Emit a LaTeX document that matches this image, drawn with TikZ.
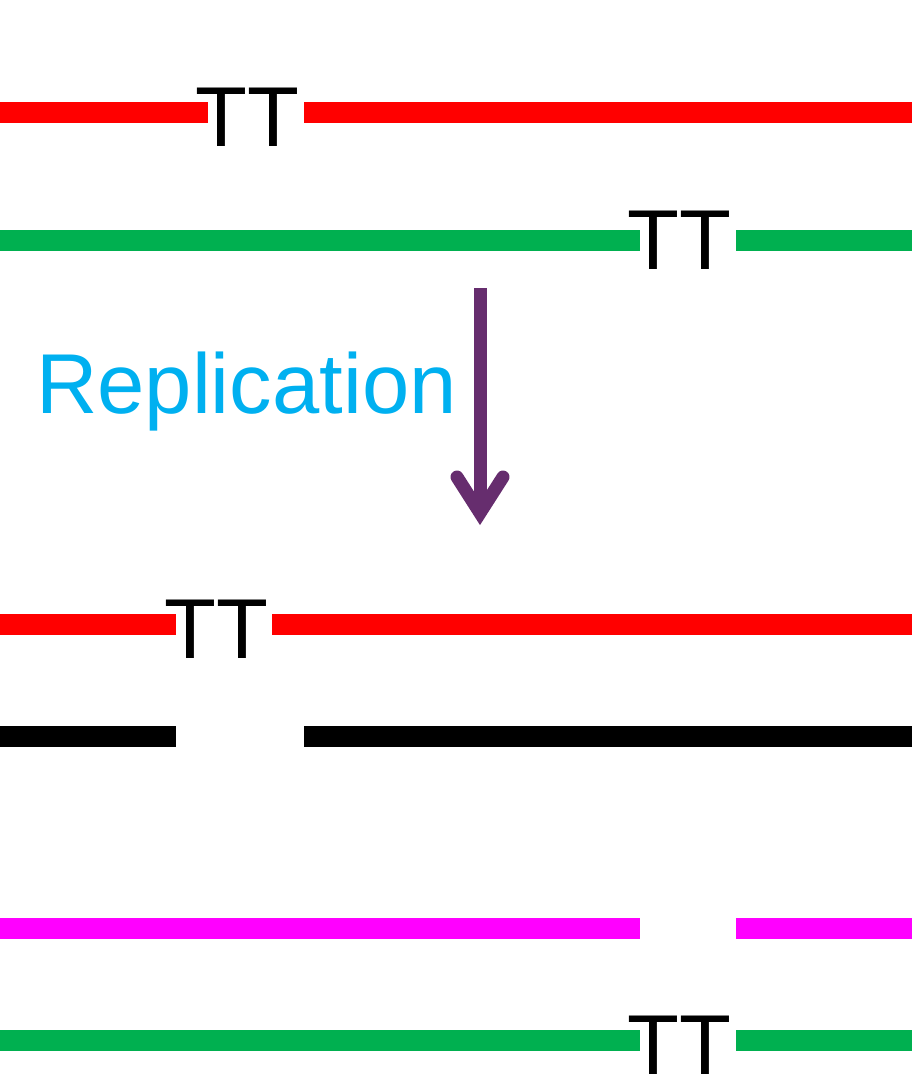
\documentclass[tikz,border=0pt]{standalone}
\usepackage{fontspec}
\setmainfont{Liberation Sans}
\definecolor{cred}{RGB}{255,0,0}
\definecolor{cgreen}{RGB}{0,176,80}
\definecolor{cmag}{RGB}{255,0,255}
\definecolor{ccyan}{RGB}{0,176,240}
\definecolor{cpurple}{RGB}{102,45,110}
\tikzset{
  strand/.style={line width=21pt, line cap=butt},
  tt/.style={anchor=base, inner sep=0pt, font=\fontsize{85}{100}\selectfont, text=black},
}
\begin{document}
\begin{tikzpicture}[x=1pt,y=-1pt]
\useasboundingbox (0,0) rectangle (912,1080);
% row 1 red
\coordinate (r1a) at (0,112); \coordinate (r1b) at (208,112);
\coordinate (r1c) at (304,112); \coordinate (r1d) at (912,112);
\draw[strand, cred] (r1a) -- (r1b);
\draw[strand, cred] (r1c) -- (r1d);
\node[tt] (tt1) at (247.5,146) {TT};
% row 2 green
\coordinate (g1a) at (0,240); \coordinate (g1b) at (640,240);
\coordinate (g1c) at (736,240); \coordinate (g1d) at (912,240);
\draw[strand, cgreen] (g1a) -- (g1b);
\draw[strand, cgreen] (g1c) -- (g1d);
\node[tt] (tt2) at (679.5,269) {TT};
% arrow
\coordinate (atop) at (480,288);
\coordinate (atip) at (480,513);
\coordinate (awl) at (457,477);
\coordinate (awr) at (503,477);
\draw[cpurple, line width=13pt] (atop) -- (480,505);
\draw[cpurple, line width=13pt, line cap=round, line join=miter] (awl) -- (atip) -- (awr);
\node[anchor=base west, inner sep=0pt, font=\fontsize{85}{100}\selectfont, text=ccyan] (rep) at (36,413) {Replication};
% row 3 red
\coordinate (r2a) at (0,624); \coordinate (r2b) at (176,624);
\coordinate (r2c) at (272,624); \coordinate (r2d) at (912,624);
\draw[strand, cred] (r2a) -- (r2b);
\draw[strand, cred] (r2c) -- (r2d);
\node[tt] (tt3) at (216,658) {TT};
% row 4 black
\coordinate (b1a) at (0,736); \coordinate (b1b) at (176,736);
\coordinate (b1c) at (304,736); \coordinate (b1d) at (912,736);
\draw[strand, black] (b1a) -- (b1b);
\draw[strand, black] (b1c) -- (b1d);
% row 5 magenta
\coordinate (m1a) at (0,928); \coordinate (m1b) at (640,928);
\coordinate (m1c) at (736,928); \coordinate (m1d) at (912,928);
\draw[strand, cmag] (m1a) -- (m1b);
\draw[strand, cmag] (m1c) -- (m1d);
% row 6 green
\coordinate (g2a) at (0,1040); \coordinate (g2b) at (640,1040);
\coordinate (g2c) at (736,1040); \coordinate (g2d) at (912,1040);
\draw[strand, cgreen] (g2a) -- (g2b);
\draw[strand, cgreen] (g2c) -- (g2d);
\node[tt] (tt4) at (679.5,1074) {TT};
\end{tikzpicture}
\end{document}
